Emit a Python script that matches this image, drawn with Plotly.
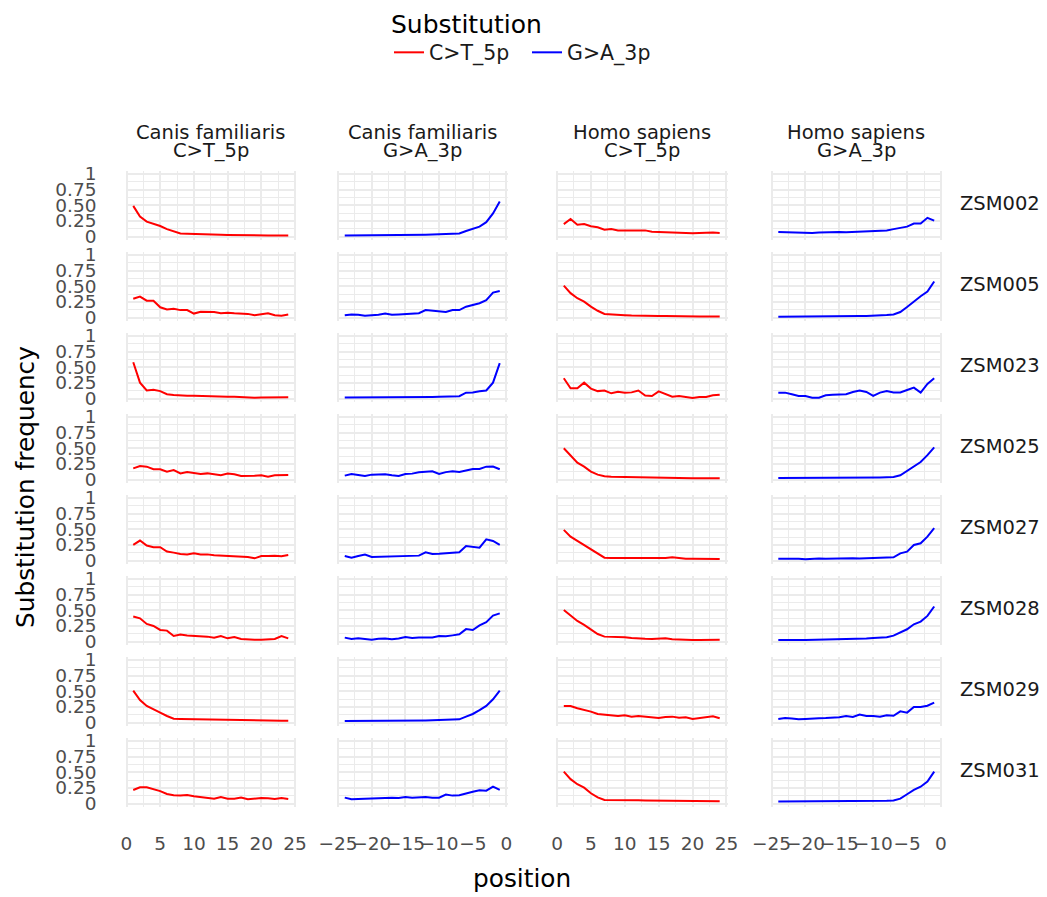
import plotly.graph_objects as go

# ---------------- data ----------------
samples = ["ZSM002", "ZSM005", "ZSM023", "ZSM025", "ZSM027", "ZSM028", "ZSM029", "ZSM031"]
species = ["Canis familiaris", "Canis familiaris", "Homo sapiens", "Homo sapiens"]
substitutions = ["C>T_5p", "G>A_3p", "C>T_5p", "G>A_3p"]

pos_5p = list(range(1, 25))          # C>T_5p positions
pos_3p = list(range(-24, 0))         # G>A_3p positions

canis_ct = {
    "ZSM002": [0.49, 0.32, 0.24, 0.21, 0.17, 0.12, 0.08, 0.05, 0.045, 0.04, 0.035, 0.03, 0.03, 0.03, 0.028, 0.025, 0.025, 0.022, 0.02, 0.02, 0.02, 0.02, 0.02, 0.02],
    "ZSM005": [0.3, 0.335, 0.27, 0.27, 0.165, 0.13, 0.14, 0.12, 0.12, 0.065, 0.095, 0.09, 0.09, 0.07, 0.08, 0.07, 0.065, 0.06, 0.04, 0.05, 0.07, 0.037, 0.03, 0.05],
    "ZSM023": [0.58, 0.255, 0.13, 0.14, 0.12, 0.07, 0.06, 0.05, 0.048, 0.045, 0.04, 0.04, 0.038, 0.035, 0.03, 0.03, 0.025, 0.018, 0.016, 0.02, 0.022, 0.025, 0.022, 0.022],
    "ZSM025": [0.18, 0.218, 0.207, 0.165, 0.165, 0.128, 0.154, 0.1, 0.122, 0.1, 0.09, 0.1, 0.09, 0.07, 0.096, 0.085, 0.058, 0.058, 0.064, 0.07, 0.048, 0.07, 0.075, 0.075],
    "ZSM027": [0.25, 0.32, 0.24, 0.213, 0.213, 0.144, 0.128, 0.106, 0.1, 0.117, 0.1, 0.1, 0.085, 0.08, 0.07, 0.064, 0.064, 0.058, 0.037, 0.074, 0.074, 0.08, 0.07, 0.09],
    "ZSM028": [0.4, 0.372, 0.282, 0.25, 0.186, 0.176, 0.09, 0.112, 0.1, 0.096, 0.085, 0.08, 0.064, 0.09, 0.053, 0.074, 0.043, 0.032, 0.032, 0.032, 0.037, 0.043, 0.09, 0.053],
    "ZSM029": [0.51, 0.36, 0.266, 0.218, 0.16, 0.106, 0.064, 0.06, 0.058, 0.058, 0.055, 0.05, 0.045, 0.04, 0.04, 0.037, 0.037, 0.035, 0.032, 0.027, 0.03, 0.03, 0.032, 0.032],
    "ZSM031": [0.218, 0.26, 0.26, 0.23, 0.2, 0.154, 0.133, 0.128, 0.138, 0.117, 0.106, 0.096, 0.08, 0.106, 0.08, 0.08, 0.096, 0.069, 0.085, 0.09, 0.085, 0.074, 0.09, 0.074],
}

canis_ga = {
    "ZSM002": [0.02, 0.02, 0.022, 0.022, 0.025, 0.025, 0.025, 0.025, 0.02, 0.03, 0.03, 0.03, 0.032, 0.035, 0.038, 0.04, 0.04, 0.05, 0.09, 0.12, 0.16, 0.23, 0.37, 0.56],
    "ZSM005": [0.037, 0.05, 0.045, 0.03, 0.04, 0.045, 0.065, 0.045, 0.05, 0.055, 0.06, 0.07, 0.12, 0.11, 0.1, 0.09, 0.12, 0.12, 0.175, 0.2, 0.23, 0.28, 0.4, 0.425],
    "ZSM023": [0.02, 0.02, 0.018, 0.018, 0.018, 0.02, 0.02, 0.022, 0.02, 0.02, 0.02, 0.025, 0.025, 0.028, 0.03, 0.032, 0.035, 0.04, 0.095, 0.1, 0.117, 0.13, 0.255, 0.565],
    "ZSM025": [0.064, 0.09, 0.075, 0.058, 0.08, 0.082, 0.085, 0.07, 0.058, 0.09, 0.096, 0.117, 0.12, 0.133, 0.09, 0.12, 0.133, 0.122, 0.145, 0.17, 0.17, 0.207, 0.21, 0.165],
    "ZSM027": [0.074, 0.048, 0.075, 0.096, 0.058, 0.06, 0.07, 0.07, 0.07, 0.068, 0.075, 0.08, 0.133, 0.106, 0.11, 0.117, 0.12, 0.133, 0.234, 0.225, 0.207, 0.34, 0.314, 0.25],
    "ZSM028": [0.064, 0.043, 0.053, 0.04, 0.032, 0.045, 0.05, 0.04, 0.05, 0.074, 0.06, 0.065, 0.07, 0.065, 0.09, 0.085, 0.1, 0.117, 0.2, 0.186, 0.26, 0.31, 0.415, 0.45],
    "ZSM029": [0.025, 0.025, 0.025, 0.025, 0.027, 0.027, 0.027, 0.03, 0.03, 0.03, 0.03, 0.032, 0.035, 0.038, 0.043, 0.045, 0.048, 0.053, 0.096, 0.138, 0.2, 0.266, 0.372, 0.51],
    "ZSM031": [0.096, 0.069, 0.075, 0.08, 0.082, 0.085, 0.09, 0.095, 0.09, 0.106, 0.095, 0.1, 0.106, 0.095, 0.096, 0.144, 0.128, 0.133, 0.165, 0.19, 0.213, 0.207, 0.27, 0.218],
}

homo_ct = {
    "ZSM002": [0.2, 0.28, 0.19, 0.2, 0.165, 0.15, 0.11, 0.12, 0.1, 0.1, 0.1, 0.1, 0.1, 0.08, 0.075, 0.07, 0.07, 0.07, 0.065, 0.055, 0.06, 0.065, 0.065, 0.058],
    "ZSM005": [0.51, 0.39, 0.31, 0.255, 0.175, 0.11, 0.06, 0.05, 0.045, 0.04, 0.035, 0.03, 0.03, 0.03, 0.025, 0.025, 0.022, 0.02, 0.02, 0.018, 0.018, 0.02, 0.02, 0.018],
    "ZSM023": [0.325, 0.165, 0.165, 0.255, 0.16, 0.12, 0.13, 0.085, 0.11, 0.095, 0.1, 0.13, 0.05, 0.043, 0.117, 0.075, 0.032, 0.043, 0.032, 0.01, 0.027, 0.027, 0.053, 0.064],
    "ZSM025": [0.5, 0.378, 0.27, 0.207, 0.128, 0.08, 0.053, 0.048, 0.045, 0.043, 0.042, 0.04, 0.04, 0.038, 0.035, 0.032, 0.03, 0.028, 0.025, 0.022, 0.022, 0.022, 0.022, 0.022],
    "ZSM027": [0.49, 0.383, 0.314, 0.25, 0.186, 0.117, 0.048, 0.043, 0.043, 0.048, 0.04, 0.037, 0.037, 0.037, 0.04, 0.043, 0.053, 0.04, 0.032, 0.032, 0.032, 0.03, 0.03, 0.027],
    "ZSM028": [0.505, 0.41, 0.33, 0.266, 0.197, 0.122, 0.08, 0.08, 0.075, 0.07, 0.06, 0.048, 0.045, 0.043, 0.053, 0.053, 0.04, 0.032, 0.03, 0.027, 0.027, 0.03, 0.032, 0.03],
    "ZSM029": [0.266, 0.266, 0.23, 0.207, 0.176, 0.138, 0.128, 0.117, 0.106, 0.117, 0.096, 0.106, 0.096, 0.074, 0.074, 0.09, 0.096, 0.08, 0.085, 0.058, 0.074, 0.09, 0.1, 0.069],
    "ZSM031": [0.51, 0.39, 0.31, 0.255, 0.165, 0.1, 0.058, 0.058, 0.06, 0.064, 0.058, 0.053, 0.05, 0.048, 0.045, 0.043, 0.04, 0.038, 0.037, 0.037, 0.037, 0.037, 0.037, 0.037],
}

homo_ga = {
    "ZSM002": [0.075, 0.07, 0.065, 0.07, 0.065, 0.06, 0.065, 0.07, 0.065, 0.075, 0.07, 0.075, 0.085, 0.09, 0.09, 0.1, 0.1, 0.12, 0.14, 0.16, 0.21, 0.21, 0.3, 0.255],
    "ZSM005": [0.015, 0.015, 0.015, 0.015, 0.016, 0.016, 0.018, 0.02, 0.02, 0.022, 0.022, 0.025, 0.025, 0.028, 0.03, 0.04, 0.042, 0.05, 0.09, 0.17, 0.26, 0.34, 0.415, 0.575],
    "ZSM023": [0.096, 0.096, 0.07, 0.043, 0.043, 0.016, 0.016, 0.053, 0.064, 0.067, 0.07, 0.106, 0.128, 0.106, 0.043, 0.096, 0.122, 0.1, 0.1, 0.138, 0.175, 0.096, 0.234, 0.325],
    "ZSM025": [0.025, 0.025, 0.025, 0.025, 0.025, 0.025, 0.025, 0.028, 0.028, 0.028, 0.03, 0.03, 0.032, 0.032, 0.035, 0.035, 0.038, 0.043, 0.07, 0.138, 0.207, 0.28, 0.39, 0.515],
    "ZSM027": [0.032, 0.035, 0.032, 0.03, 0.022, 0.032, 0.035, 0.03, 0.035, 0.035, 0.035, 0.04, 0.035, 0.04, 0.04, 0.043, 0.045, 0.053, 0.117, 0.144, 0.25, 0.277, 0.383, 0.516],
    "ZSM028": [0.027, 0.03, 0.027, 0.025, 0.025, 0.027, 0.03, 0.035, 0.037, 0.037, 0.04, 0.043, 0.045, 0.05, 0.06, 0.07, 0.07, 0.096, 0.144, 0.197, 0.277, 0.32, 0.41, 0.56],
    "ZSM029": [0.058, 0.074, 0.065, 0.053, 0.06, 0.069, 0.072, 0.074, 0.078, 0.085, 0.106, 0.09, 0.128, 0.106, 0.106, 0.095, 0.117, 0.11, 0.18, 0.16, 0.25, 0.25, 0.27, 0.32],
    "ZSM031": [0.035, 0.035, 0.035, 0.037, 0.037, 0.037, 0.037, 0.038, 0.037, 0.04, 0.04, 0.038, 0.04, 0.042, 0.045, 0.045, 0.045, 0.05, 0.08, 0.15, 0.218, 0.27, 0.35, 0.51],
}

y_tickvals = [0, 0.25, 0.5, 0.75, 1]
y_ticktext = ["0", "0.25", "0.50", "0.75", "1"]
x5_tickvals = [0, 5, 10, 15, 20, 25]
x5_ticktext = ["0", "5", "10", "15", "20", "25"]
x3_tickvals = [-25, -20, -15, -10, -5, 0]
x3_ticktext = ["\u221225", "\u221220", "\u221215", "\u221210", "\u22125", "0"]

# ---------------- layout geometry ----------------
W, H = 1047, 897
FONT = "DejaVu Sans"
col_px = [(125.5, 296), (337, 507.5), (556, 727.5), (770.5, 942)]
row_top0, row_pitch, row_h = 170.7, 81.0, 69.1
colors = {"C>T_5p": "#FF0000", "G>A_3p": "#0000FF"}
column_data = [canis_ct, canis_ga, homo_ct, homo_ga]

fig = go.Figure()
layout = {}
shown = set()
for r, s in enumerate(samples):
    top = row_top0 + r * row_pitch
    bot = top + row_h
    for c in range(4):
        idx = r * 4 + c + 1
        sub = substitutions[c]
        xs = pos_5p if sub == "C>T_5p" else pos_3p
        show = sub not in shown
        shown.add(sub)
        fig.add_trace(go.Scatter(
            x=xs, y=column_data[c][s], mode="lines",
            line=dict(color=colors[sub], width=2.0),
            name=sub, legendgroup=sub, showlegend=show,
            xaxis=f"x{idx}", yaxis=f"y{idx}", hoverinfo="skip"))
        x0, x1 = col_px[c]
        is5 = sub == "C>T_5p"
        layout[f"xaxis{idx}"] = dict(
            domain=[x0 / W, x1 / W], anchor=f"y{idx}",
            range=[-0.15, 25.15] if is5 else [-25.15, 0.15],
            tickvals=x5_tickvals if is5 else x3_tickvals,
            ticktext=x5_ticktext if is5 else x3_ticktext,
            showticklabels=(r == len(samples) - 1),
            tickangle=0, automargin=False,
            tickfont=dict(family=FONT, size=18.5, color="#4D4D4D"),
            ticklabelstandoff=24,
            showgrid=True, gridcolor="#EBEBEB", gridwidth=1.6,
            minor=dict(tickvals=[2.5, 7.5, 12.5, 17.5, 22.5] if is5 else [-22.5, -17.5, -12.5, -7.5, -2.5],
                       showgrid=True, gridcolor="#EBEBEB", gridwidth=0.9),
            zeroline=False, showline=False, ticks="", fixedrange=True)
        layout[f"yaxis{idx}"] = dict(
            domain=[1 - bot / H, 1 - top / H], anchor=f"x{idx}",
            range=[-0.05, 1.05],
            tickvals=y_tickvals, ticktext=y_ticktext,
            showticklabels=(c == 0), automargin=False,
            tickfont=dict(family=FONT, size=18.5, color="#4D4D4D"),
            ticklabelstandoff=28,
            showgrid=True, gridcolor="#EBEBEB", gridwidth=1.6,
            minor=dict(tickvals=[0.125, 0.375, 0.625, 0.875],
                       showgrid=True, gridcolor="#EBEBEB", gridwidth=0.9),
            zeroline=False, showline=False, ticks="", fixedrange=True)

annotations = []
# column strips (two lines each)
for c in range(4):
    cx = (col_px[c][0] + col_px[c][1]) / 2 / W
    annotations.append(dict(text=species[c], x=cx, y=1 - 132.5 / H, xref="paper", yref="paper",
                            showarrow=False, xanchor="center", yanchor="middle",
                            font=dict(family=FONT, size=19.5, color="#1A1A1A")))
    annotations.append(dict(text=substitutions[c], x=cx, y=1 - 150 / H, xref="paper", yref="paper",
                            showarrow=False, xanchor="center", yanchor="middle",
                            font=dict(family=FONT, size=19.5, color="#1A1A1A")))
# row strips
for r, s in enumerate(samples):
    cy = row_top0 + r * row_pitch + row_h / 2 - 2
    annotations.append(dict(text=s, x=958 / W, y=1 - cy / H, xref="paper", yref="paper",
                            showarrow=False, xanchor="left", yanchor="middle",
                            font=dict(family=FONT, size=19.5, color="#1A1A1A")))
# axis titles
annotations.append(dict(text="position", x=522 / W, y=1 - 878 / H, xref="paper", yref="paper",
                        showarrow=False, xanchor="center", yanchor="middle",
                        font=dict(family=FONT, size=24.8, color="#000000")))
annotations.append(dict(text="Substitution frequency", x=25 / W, y=1 - 487 / H, xref="paper", yref="paper",
                        showarrow=False, xanchor="center", yanchor="middle", textangle=-90,
                        font=dict(family=FONT, size=24.8, color="#000000")))

layout.update(dict(
    template="none",
    width=W, height=H, autosize=False,
    margin=dict(l=0, r=0, t=0, b=0),
    paper_bgcolor="white", plot_bgcolor="white",
    font=dict(family=FONT),
    showlegend=True,
    legend=dict(orientation="h", x=389 / W, y=1, xanchor="left", yanchor="top",
                title=dict(text="Substitution", side="top",
                           font=dict(family=FONT, size=25, color="#000000")),
                font=dict(family=FONT, size=20.5, color="#1A1A1A"),
                entrywidth=93, entrywidthmode="pixels",
                bgcolor="rgba(0,0,0,0)", itemwidth=30, tracegroupgap=0),
    annotations=annotations,
))
fig.update_layout(**layout)
fig.write_html("out.html", config={"displayModeBar": False},
               post_script="document.body.style.margin='0';document.body.style.overflow='hidden';")
